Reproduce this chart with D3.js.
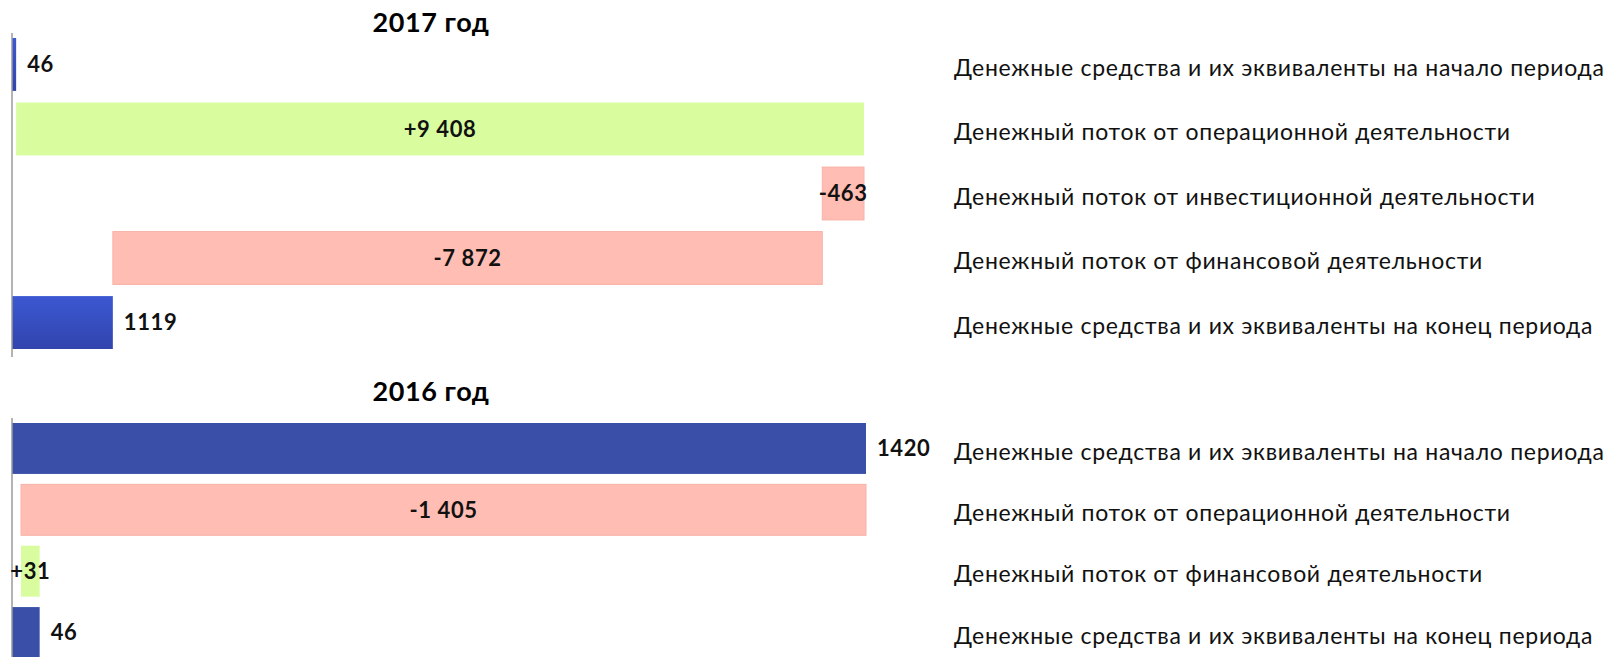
<!DOCTYPE html>
<html>
<head>
<meta charset="utf-8">
<script src="https://cdn.jsdelivr.net/npm/d3@7"></script>
<style>
  body { margin: 0; background: #fff; }
  svg { display: block; font-family: Lato, "Open Sans", sans-serif; }
</style>
</head>
<body>
<svg id="chart" width="1612" height="657"></svg>
<script>
  // categories and values
  let rows2017 = [
    'Денежные средства и их эквиваленты на начало периода',
    'Денежный поток от операционной деятельности',
    'Денежный поток от инвестиционной деятельности',
    'Денежный поток от финансовой деятельности',
    'Денежные средства и их эквиваленты на конец периода'
  ]
  let values2017 = [46, 9408, -463, -7872, 1119]
  let kinds2017 = ['total', 'flow', 'flow', 'flow', 'total']
  let text2017 = ['46', '+9 408', '-463', '-7 872', '1119']

  let rows2016 = [
    'Денежные средства и их эквиваленты на начало периода',
    'Денежный поток от операционной деятельности',
    'Денежный поток от финансовой деятельности',
    'Денежные средства и их эквиваленты на конец периода'
  ]
  let values2016 = [1420, -1405, 31, 46]
  let kinds2016 = ['total', 'flow', 'flow', 'total']
  let text2016 = ['1420', '-1 405', '+31', '46']

  let titles = ['2017 год', '2016 год']

  let svg = d3.select('#chart')

  let defs = svg.append('defs')
  let grad = defs.append('linearGradient')
    .attr('id', 'blueGrad')
    .attr('x1', 0).attr('y1', 0).attr('x2', 0).attr('y2', 1)
  grad.append('stop').attr('offset', '0%').attr('stop-color', '#3b58d2')
  grad.append('stop').attr('offset', '100%').attr('stop-color', '#3244ad')

  // builds waterfall steps: start/end of every bar
  function steps(values, kinds) {
    let run = 0
    return values.map((v, i) => {
      let s, e
      if (kinds[i] === 'total') { s = 0; e = v; run = v }
      else { s = run; e = run + v; run = e }
      return { i: i, v: v, kind: kinds[i], x0: Math.min(s, e), x1: Math.max(s, e) }
    })
  }

  function renderPanel(cfg) {
    let data = steps(cfg.values, cfg.kinds)
    let g = svg.append('g')

    let x = d3.scaleLinear()
      .domain([0, d3.max(data, d => d.x1)])
      .range([12, cfg.right])

    let y = d3.scaleBand()
      .domain(cfg.rows.map((r, i) => i))
      .range(cfg.yRange)
      .paddingInner(cfg.pad)
      .paddingOuter(0)

    g.append('text')
      .attr('x', 431)
      .attr('y', cfg.titleY)
      .attr('text-anchor', 'middle')
      .attr('font-size', 27)
      .attr('font-weight', 'bold')
      .attr('letter-spacing', 0.6)
      .attr('fill', '#000')
      .text(cfg.title)

    g.selectAll('rect.bar')
      .data(data)
      .enter()
      .append('rect')
      .attr('class', 'bar')
      .attr('x', d => x(d.x0))
      .attr('y', d => y(d.i))
      .attr('width', d => Math.max(x(d.x1) - x(d.x0), 1))
      .attr('height', y.bandwidth())
      .attr('fill', d => d.kind === 'total' ? cfg.totalFill : (d.v > 0 ? '#d8fc9e' : '#ffbdb3'))
      .attr('stroke', d => d.kind === 'flow' && d.v < 0 ? '#f8b2a8' : 'none')
      .attr('stroke-width', 1)

    // vertical base line
    g.append('line')
      .attr('x1', 12).attr('x2', 12)
      .attr('y1', cfg.yRange[0] - 5)
      .attr('y2', cfg.yRange[1] + 8)
      .attr('stroke', '#9a9a9a')
      .attr('stroke-width', 1.5)

    g.selectAll('text.val')
      .data(data)
      .enter()
      .append('text')
      .attr('class', 'val')
      .attr('x', d => d.kind === 'total' ? x(d.x1) + 11 : (x(d.x0) + x(d.x1)) / 2)
      .attr('y', d => y(d.i) + y.bandwidth() / 2)
      .attr('dy', '0.36em')
      .attr('text-anchor', d => d.kind === 'total' ? 'start' : 'middle')
      .attr('font-size', 22)
      .attr('font-weight', 'bold')
      .attr('letter-spacing', 0.6)
      .attr('fill', '#111')
      .text(d => cfg.text[d.i])

    g.selectAll('text.row')
      .data(cfg.rows)
      .enter()
      .append('text')
      .attr('class', 'row')
      .attr('x', 954)
      .attr('y', (d, i) => y(i) + y.bandwidth() / 2 + 3)
      .attr('dy', '0.36em')
      .attr('font-size', 23)
      .attr('letter-spacing', 0.7)
      .attr('fill', '#111')
      .text(d => d)
  }

  renderPanel({
    title: titles[0], titleY: 32,
    rows: rows2017, values: values2017, kinds: kinds2017, text: text2017,
    right: 864, yRange: [38, 349], pad: 0.18, totalFill: 'url(#blueGrad)'
  })

  renderPanel({
    title: titles[1], titleY: 401,
    rows: rows2016, values: values2016, kinds: kinds2016, text: text2016,
    right: 866, yRange: [423, 658], pad: 0.17, totalFill: '#3a4fa8'
  })
</script>
</body>
</html>
